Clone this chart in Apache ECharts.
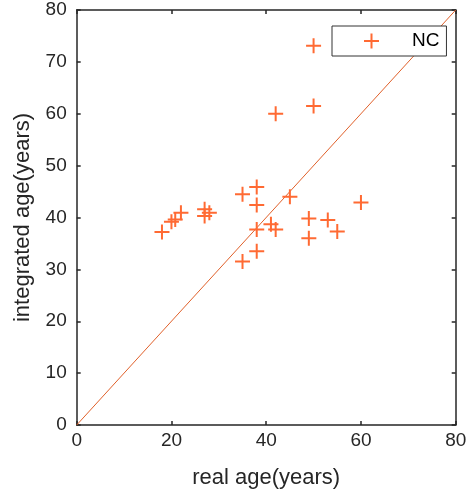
<!DOCTYPE html>
<html><head><meta charset="utf-8">
<script src="https://cdn.jsdelivr.net/npm/echarts@6/dist/echarts.min.js"></script>
<style>html,body{margin:0;padding:0;background:#fff}#c{width:471px;height:502px}</style>
</head><body><div id="c"></div>
<script>
const realAge = [18, 20, 20.8, 22, 27, 27, 28, 35, 38, 38, 38, 41, 42, 45, 49, 49, 53, 55, 38, 35, 50, 50, 42, 60];
const integratedAge = [37.2, 39.2, 39.6, 40.9, 41.6, 40.3, 40.9, 44.5, 45.9, 42.4, 37.7, 38.7, 37.7, 44.0, 39.8, 36.0, 39.5, 37.3, 33.5, 31.5, 73.1, 61.5, 60.0, 42.9];
const identityLine = [[0, 0], [80, 80]];
const xTicks = [0, 20, 40, 60, 80];
const yTicks = [0, 10, 20, 30, 40, 50, 60, 70, 80];
const seriesName = 'NC';

const plus = 'path://M6.5,0h2v6.5h6.5v2h-6.5v6.5h-2v-6.5h-6.5v-2h6.5z';
const axisColor = '#262626';
const font = 'Liberation Sans, Arial, sans-serif';
const chart = echarts.init(document.getElementById('c'));
const baseX = {type:'value', min:0, max:80, interval:20,
  axisLine:{show:true, onZero:false, lineStyle:{color:axisColor, width:1.5}},
  axisTick:{show:true, inside:true, length:4, lineStyle:{color:axisColor, width:1.5}},
  splitLine:{show:false}};
const baseY = {type:'value', min:0, max:80, interval:10,
  axisLine:{show:true, onZero:false, lineStyle:{color:axisColor, width:1.5}},
  axisTick:{show:true, inside:true, length:4, lineStyle:{color:axisColor, width:1.5}},
  splitLine:{show:false}};
chart.setOption({
  animation:false,
  backgroundColor:'#fff',
  grid:{left:76.7, right:15.3, top:10, bottom:77},
  xAxis:[
    Object.assign({}, baseX, {position:'bottom', name:'real age(years)', nameLocation:'middle', nameGap:41.5,
      nameTextStyle:{fontFamily:font, fontSize:22, color:axisColor},
      axisLabel:{margin:6, fontFamily:font, fontSize:19, color:axisColor,
        formatter:v=>xTicks.includes(v)?String(v):''}}),
    Object.assign({}, baseX, {position:'top', axisLabel:{show:false}})
  ],
  yAxis:[
    Object.assign({}, baseY, {position:'left', name:'integrated age(years)', nameLocation:'middle', nameGap:42.7,
      nameTextStyle:{fontFamily:font, fontSize:22, color:axisColor},
      axisLabel:{margin:10, fontFamily:font, fontSize:19, color:axisColor,
        formatter:v=>yTicks.includes(v)?String(v):''}}),
    Object.assign({}, baseY, {position:'right', axisLabel:{show:false}})
  ],
  legend:{data:[seriesName], left:332, top:26, orient:'horizontal',
    backgroundColor:'#fff', borderColor:'#333', borderWidth:1,
    padding:[5.5,7,5.5,32], itemWidth:15, itemHeight:15, itemGap:0,
    textStyle:{fontFamily:font, fontSize:19, lineHeight:15, color:'#000', padding:[0,0,0,28]}},
  series:[
    {type:'line', name:'identity', data:identityLine, showSymbol:false, symbol:'none',
      lineStyle:{color:'#E0602A', width:1}, z:1, silent:true},
    {type:'scatter', name:seriesName, data:realAge.map((x,i)=>[x, integratedAge[i]]),
      symbol:plus, symbolSize:15, itemStyle:{color:'#FF6A33', opacity:1}, z:2}
  ]
});
</script></body></html>
